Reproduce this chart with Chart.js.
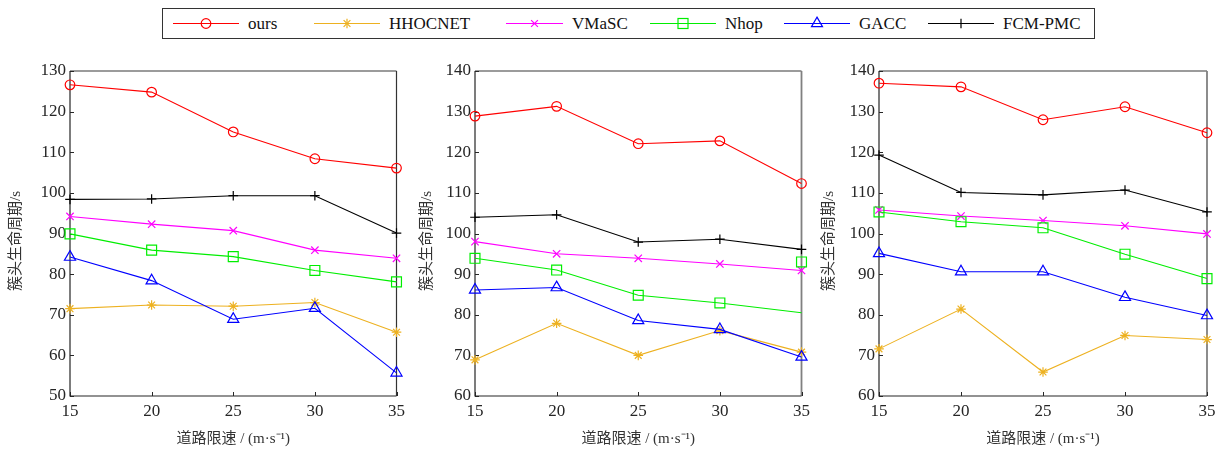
<!DOCTYPE html>
<html>
<head>
<meta charset="utf-8">
<script src="https://cdn.jsdelivr.net/npm/chart.js@4.4.0/dist/chart.umd.min.js"></script>
<style>
  html, body { margin: 0; padding: 0; background: #fff; }
  #wrap { position: relative; width: 1221px; height: 452px; overflow: hidden; background: #fff; }
  #wrap canvas { position: absolute; top: 50px; }
  #legend { position: absolute; left: 162px; top: 8px; width: 931px; height: 29px;
            border: 1px solid #333; box-sizing: content-box;
            font-family: "Liberation Serif", "Times New Roman", serif; font-size: 17px; color: #111; }
  .item { position: absolute; top: 0; height: 29px; display: flex; align-items: center; white-space: nowrap; }
  .item svg { display: block; }
</style>
</head>
<body>
<div id="wrap">
  <div id="legend"></div>
  <canvas id="c1"></canvas>
  <canvas id="c2"></canvas>
  <canvas id="c3"></canvas>
</div>
<script>
// road speed limits (m/s) on the x axis
const speeds = [15, 20, 25, 30, 35];
const seriesNames = ['ours', 'HHOCNET', 'VMaSC', 'Nhop', 'GACC', 'FCM-PMC'];
const xTitle = '道路限速 / (m·s⁻¹)';
const yTitle = '簇头生命周期/s';

// cluster-head lifetime, scenario 1
const ours1    = [126.6, 124.8, 115.0, 108.4, 106.1];
const hhocnet1 = [71.5, 72.4, 72.1, 73.0, 65.7];
const vmasc1   = [94.2, 92.3, 90.7, 85.9, 83.9];
const nhop1    = [89.9, 85.9, 84.3, 80.9, 78.1];
const gacc1    = [84.2, 78.4, 68.9, 71.6, 55.7];
const fcmpmc1  = [98.4, 98.5, 99.3, 99.3, 90.1];

// scenario 2
const ours2    = [128.9, 131.3, 122.1, 122.8, 112.3];
const hhocnet2 = [68.9, 77.9, 70.0, 76.1, 70.8];
const vmasc2   = [98.0, 95.0, 93.9, 92.5, 90.9];
const nhop2    = [93.9, 91.0, 84.8, 82.9, 80.5];
const nhop2Mark = [null, null, null, null, 93.0];
const gacc2    = [86.1, 86.7, 78.6, 76.4, 69.6];
const fcmpmc2  = [104.0, 104.6, 97.9, 98.6, 96.1];

// scenario 3
const ours3    = [137.0, 136.1, 128.0, 131.2, 124.8];
const hhocnet3 = [71.6, 81.4, 65.9, 74.9, 73.9];
const vmasc3   = [105.8, 104.3, 103.2, 101.9, 99.9];
const nhop3    = [105.3, 102.9, 101.4, 94.9, 88.9];
const gacc3    = [95.1, 90.6, 90.6, 84.3, 79.8];
const fcmpmc3  = [119.3, 110.1, 109.5, 110.7, 105.3];

// y-axis tick range per panel
const yRange1 = [50, 130];
const yRange2 = [60, 140];
const yRange3 = [60, 140];

// line colour and marker per series
const styles = {
  'ours':    { color: '#ff0000', point: 'circle',   r: 4.8 },
  'HHOCNET': { color: '#edb120', point: 'star',     r: 4.8 },
  'VMaSC':   { color: '#ff00ff', point: 'crossRot', r: 5.2 },
  'Nhop':    { color: '#00ee00', point: 'rect',     r: 7.0 },
  'GACC':    { color: '#0000ff', point: 'triangle', r: 6.4 },
  'FCM-PMC': { color: '#000000', point: 'cross',    r: 4.8 }
};

const SERIF = '"Liberation Serif", "Times New Roman", "Noto Sans CJK SC", serif';
const TITLE_FONT = '15px "Liberation Serif", "Noto Sans CJK SC", serif';

function toXY(vals) { return speeds.map((s, i) => ({ x: s, y: vals[i] })); }

function makeDataset(name, vals, order, extra) {
  const st = styles[name];
  return Object.assign({
    label: name,
    data: toXY(vals),
    borderColor: st.color,
    backgroundColor: 'transparent',
    borderWidth: 1.1,
    pointStyle: st.point,
    pointRadius: st.r,
    pointBorderColor: st.color,
    pointBackgroundColor: 'transparent',
    pointBorderWidth: 1.2,
    tension: 0,
    clip: false,
    order: order
  }, extra || {});
}

// box, inward tick marks and axis titles
const framePlugin = {
  id: 'frame',
  beforeDatasetsDraw(chart, args, opts) {
    const { ctx, chartArea: { left, right, top, bottom }, scales: { x, y } } = chart;
    ctx.save();
    ctx.lineCap = 'butt';
    // top edge
    ctx.strokeStyle = '#7a7a7a';
    ctx.lineWidth = 1.6;
    ctx.beginPath(); ctx.moveTo(left, top); ctx.lineTo(right, top); ctx.stroke();
    // right edge
    ctx.strokeStyle = opts.rightColor;
    ctx.lineWidth = opts.rightWidth;
    ctx.beginPath(); ctx.moveTo(right, top); ctx.lineTo(right, bottom); ctx.stroke();
    // left & bottom axes
    ctx.strokeStyle = '#262626';
    ctx.lineWidth = 1.2;
    ctx.beginPath();
    ctx.moveTo(left, top); ctx.lineTo(left, bottom); ctx.lineTo(right, bottom);
    ctx.stroke();
    // inward ticks
    ctx.lineWidth = 1;
    ctx.beginPath();
    y.ticks.forEach(t => {
      const py = Math.round(y.getPixelForValue(t.value)) + 0.5;
      ctx.moveTo(left, py); ctx.lineTo(left + 4, py);
    });
    x.ticks.forEach(t => {
      const px = Math.round(x.getPixelForValue(t.value)) + 0.5;
      ctx.moveTo(px, bottom); ctx.lineTo(px, bottom - 4);
    });
    ctx.stroke();
    ctx.restore();
  },
  afterDraw(chart, args, opts) {
    const { ctx, chartArea: { left, right, top, bottom } } = chart;
    ctx.save();
    ctx.fillStyle = '#333';
    ctx.font = TITLE_FONT;
    ctx.textAlign = 'center';
    ctx.textBaseline = 'middle';
    ctx.fillText(xTitle, (left + right) / 2, opts.xTitleY);
    ctx.translate(opts.yTitleX, opts.yTitleY);
    ctx.rotate(-Math.PI / 2);
    ctx.fillText(yTitle, 0, 0);
    ctx.restore();
  }
};

function makeChart(cfg) {
  const canvas = document.getElementById(cfg.id);
  canvas.width = cfg.width; canvas.height = 402;
  canvas.style.left = cfg.left + 'px';
  canvas.style.width = cfg.width + 'px'; canvas.style.height = '402px';
  return new Chart(canvas, {
    type: 'line',
    data: { datasets: cfg.datasets },
    options: {
      responsive: false,
      animation: false,
      devicePixelRatio: 1,
      events: [],
      layout: { padding: { top: 21, right: cfg.padRight, left: 0, bottom: 0 } },
      scales: {
        x: {
          type: 'linear', min: 15, max: 35,
          grid: { display: false, drawTicks: false },
          border: { display: false },
          ticks: { stepSize: 5, padding: 5, color: '#262626', font: { family: SERIF, size: 17 }, maxRotation: 0 },
          afterFit(scale) { scale.height = 56; }
        },
        y: {
          min: cfg.yRange[0], max: cfg.yRange[1],
          grid: { display: false, drawTicks: false },
          border: { display: false },
          ticks: { stepSize: 10, padding: 4, color: '#262626', font: { family: SERIF, size: 17 } },
          afterFit(scale) { scale.width = cfg.yWidth; }
        }
      },
      plugins: {
        legend: { display: false },
        tooltip: { enabled: false },
        frame: { rightColor: cfg.rightColor, rightWidth: cfg.rightWidth,
                 xTitleY: 389, yTitleX: cfg.yTitleX, yTitleY: 191 }
      }
    },
    plugins: [framePlugin]
  });
}

makeChart({
  id: 'c1', left: 0, width: 410, yWidth: 70, padRight: 13, yRange: yRange1,
  rightColor: '#333', rightWidth: 1.2, yTitleX: 16,
  datasets: [
    makeDataset('ours', ours1, 6), makeDataset('HHOCNET', hhocnet1, 5),
    makeDataset('VMaSC', vmasc1, 4), makeDataset('Nhop', nhop1, 3),
    makeDataset('GACC', gacc1, 2), makeDataset('FCM-PMC', fcmpmc1, 1)
  ]
});

makeChart({
  id: 'c2', left: 410, width: 405, yWidth: 65, padRight: 13, yRange: yRange2,
  rightColor: '#808080', rightWidth: 1.8, yTitleX: 17,
  datasets: [
    makeDataset('ours', ours2, 7), makeDataset('HHOCNET', hhocnet2, 6),
    makeDataset('VMaSC', vmasc2, 5),
    makeDataset('Nhop', nhop2, 4, { pointRadius: [7, 7, 7, 7, 0] }),
    makeDataset('Nhop', nhop2Mark, 3, { showLine: false }),
    makeDataset('GACC', gacc2, 2), makeDataset('FCM-PMC', fcmpmc2, 1)
  ]
});

makeChart({
  id: 'c3', left: 815, width: 406, yWidth: 64, padRight: 14, yRange: yRange3,
  rightColor: '#808080', rightWidth: 1.8, yTitleX: 14,
  datasets: [
    makeDataset('ours', ours3, 6), makeDataset('HHOCNET', hhocnet3, 5),
    makeDataset('VMaSC', vmasc3, 4), makeDataset('Nhop', nhop3, 3),
    makeDataset('GACC', gacc3, 2), makeDataset('FCM-PMC', fcmpmc3, 1)
  ]
});

// shared legend across the three panels
const legendPos = [
  { line: 10,  text: 85 },
  { line: 151, text: 226 },
  { line: 343, text: 409 },
  { line: 487, text: 562 },
  { line: 621, text: 696 },
  { line: 765, text: 840 }
];

function markerSvg(name, cx, cy) {
  const st = styles[name];
  const c = st.color;
  const s = `stroke="${c}" stroke-width="1.2" fill="none"`;
  if (st.point === 'circle') return `<circle cx="${cx}" cy="${cy}" r="4.8" ${s}/>`;
  if (st.point === 'rect') return `<rect x="${cx - 5}" y="${cy - 5}" width="10" height="10" ${s}/>`;
  if (st.point === 'triangle') return `<polygon points="${cx},${cy - 6.4} ${cx + 5.5},${cy + 3.2} ${cx - 5.5},${cy + 3.2}" ${s}/>`;
  const d = 4.8, q = 3.4;
  const plus = `<path d="M${cx - d} ${cy}H${cx + d}M${cx} ${cy - d}V${cy + d}" ${s}/>`;
  const cross = `<path d="M${cx - q} ${cy - q}L${cx + q} ${cy + q}M${cx - q} ${cy + q}L${cx + q} ${cy - q}" ${s}/>`;
  if (st.point === 'cross') return plus;
  if (st.point === 'crossRot') return cross;
  return plus + cross;
}

const legend = document.getElementById('legend');
seriesNames.forEach((name, i) => {
  const p = legendPos[i];
  const w = p.text - 9 - p.line;
  const lineItem = document.createElement('div');
  lineItem.className = 'item';
  lineItem.style.left = p.line + 'px';
  lineItem.innerHTML = `<svg width="${w}" height="29" viewBox="0 0 ${w} 29">
    <line x1="0" y1="14.5" x2="${w}" y2="14.5" stroke="${styles[name].color}" stroke-width="1.2"/>
    ${markerSvg(name, w / 2, 14.5)}</svg>`;
  legend.appendChild(lineItem);
  const textItem = document.createElement('div');
  textItem.className = 'item';
  textItem.style.left = p.text + 'px';
  textItem.textContent = name;
  legend.appendChild(textItem);
});
</script>
</body>
</html>
